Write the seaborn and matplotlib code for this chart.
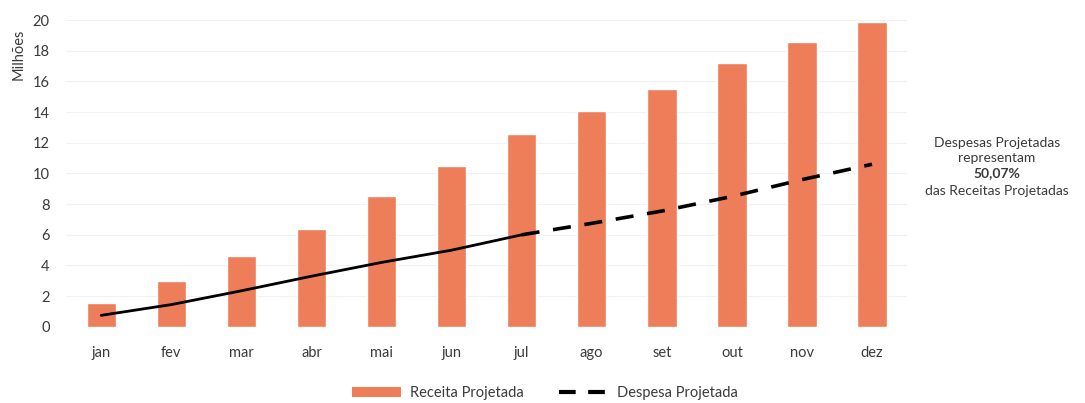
import numpy as np
import pandas as pd
import matplotlib
matplotlib.use("Agg")
import matplotlib.pyplot as plt
import seaborn as sns
from matplotlib.patches import Patch
from matplotlib.lines import Line2D

months = ["jan", "fev", "mar", "abr", "mai", "jun", "jul", "ago", "set", "out", "nov", "dez"]
receita = [1.55, 3.0, 4.6, 6.4, 8.55, 10.5, 12.6, 14.1, 15.5, 17.2, 18.6, 19.9]
despesa = [0.75, 1.45, 2.35, 3.3, 4.2, 5.0, 6.0, 6.75, 7.55, 8.5, 9.6, 10.6]
n_real = 7  # jan..jul realised (solid), remainder projected (dashed)

y_ticks = [0, 2, 4, 6, 8, 10, 12, 14, 16, 18, 20]
note_lines = ["Despesas Projetadas", "representam", "50,07%", "das Receitas Projetadas"]

sns.set_theme(style="white")
plt.rcParams["font.family"] = ["Lato", "DejaVu Sans"]

TXT = "#3a3a3a"
BAR = "#EE7E59"

fig = plt.figure(figsize=(10.85, 4.03), dpi=100)
ax = fig.add_axes([0.061, 0.189, 0.775, 0.761])

df = pd.DataFrame({"mes": months, "receita": receita, "despesa": despesa})
sns.barplot(data=df, x="mes", y="receita", color=BAR, saturation=1, width=0.42, ax=ax, zorder=2)

real = df.iloc[:n_real]
proj = df.iloc[n_real - 1:]
sns.lineplot(x=np.arange(n_real), y=real["despesa"].values, color="black", lw=2.0, ax=ax, zorder=3)
sns.lineplot(x=np.arange(n_real - 1, len(months)), y=proj["despesa"].values, color="black", lw=2.6,
             ax=ax, zorder=3, linestyle=(0, (5, 3.8)))

ax.set_ylim(0, 20)
ax.set_xlim(-0.5, len(months) - 0.5)
ax.set_yticks(y_ticks)
ax.set_yticklabels([str(t) for t in y_ticks], fontsize=10.5, color=TXT)
ax.set_xticks(range(len(months)))
ax.set_xticklabels(months, fontsize=10.5, color=TXT)
ax.tick_params(axis="both", length=0, pad=12)
ax.tick_params(axis="x", pad=14)
ax.set_xlabel("")
ax.set_ylabel("")
ax.yaxis.grid(True, color="#f1f1f1", lw=0.8, zorder=0)
for s in ax.spines.values():
    s.set_visible(False)

fig.text(0.017, 0.865, "Milhões", rotation=90, fontsize=10.5, color=TXT, ha="center", va="center")

note_y = [0.645, 0.608, 0.571, 0.526]
for txt, yy in zip(note_lines, note_y):
    fig.text(0.919, yy, txt, fontsize=10, color=TXT, ha="center", va="center",
             fontweight="bold" if "%" in txt else "normal")

handles = [Patch(facecolor=BAR, edgecolor="none", label="Receita Projetada"),
           Line2D([0], [0], color="black", lw=3, linestyle=(0, (4, 3)), label="Despesa Projetada")]
fig.legend(handles=handles, loc="center", bbox_to_anchor=(0.502, 0.024), ncol=2, frameon=False,
           fontsize=10.5, handlelength=3.4, handletextpad=0.6, columnspacing=2.4, labelcolor=TXT)

fig.savefig("out.png", dpi=100, facecolor="white")
